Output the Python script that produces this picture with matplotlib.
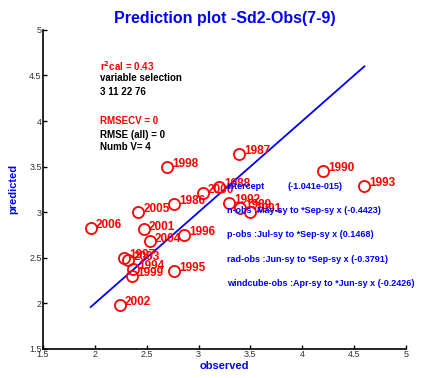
import matplotlib
matplotlib.use('Agg')
import matplotlib.pyplot as plt

plt.rcParams['font.family'] = ['Liberation Sans', 'DejaVu Sans']

# ---------- data ----------
years = [1986, 1987, 1988, 1989, 1990, 1991, 1992, 1993, 1994, 1995, 1996,
         1997, 1998, 1999, 2000, 2001, 2002, 2003, 2004, 2005, 2006]
observed = [2.76, 3.39, 3.20, 3.40, 4.20, 3.50, 3.29, 4.60, 2.37, 2.76, 2.86,
            2.28, 2.70, 2.36, 3.04, 2.47, 2.24, 2.32, 2.53, 2.42, 1.96]
predicted = [3.09, 3.64, 3.28, 3.05, 3.45, 3.00, 3.10, 3.29, 2.38, 2.36, 2.75,
             2.50, 3.50, 2.30, 3.21, 2.81, 1.98, 2.48, 2.68, 3.00, 2.83]

ticks = [1.5, 2, 2.5, 3, 3.5, 4, 4.5, 5]
tick_labels = ['1.5', '2', '2.5', '3', '3.5', '4', '4.5', '5']

stats_red1 = r'r$^{\mathbf{2}}$cal = 0.43'
stats_black1 = ['variable selection', '3 11 22 76']
stats_red2 = 'RMSECV = 0'
stats_black2 = ['RMSE (all) = 0', 'Numb V= 4']

intercept_name = 'Intercept'
intercept_val = '(-1.041e-015)'
model_lines = [
    'n-obs :May-sy to *Sep-sy x (-0.4423)',
    'p-obs :Jul-sy to *Sep-sy x (0.1468)',
    'rad-obs :Jun-sy to *Sep-sy x (-0.3791)',
    'windcube-obs :Apr-sy to *Jun-sy x (-0.2426)',
]

# ---------- figure ----------
fig = plt.figure(figsize=(4.35, 3.78), dpi=100)
ax = fig.add_axes([0.099, 0.077, 0.834, 0.844])

lo, hi = min(observed), max(observed)
ax.plot([lo, hi], [lo, hi], color='#0000ff', lw=1.3, zorder=1)
ax.plot(observed, predicted, 'o', mfc='none', mec='red', ms=8, mew=1.3, zorder=2)
for yr, xo, yp in zip(years, observed, predicted):
    ax.text(xo + 0.05, yp + 0.03, str(yr), color='red', fontsize=8.5,
            fontweight='bold', va='center', ha='left', zorder=3)

ax.text(2.05, 4.6, stats_red1, color='red', fontsize=7, fontweight='bold', va='center')
for i, s in enumerate(stats_black1):
    ax.text(2.05, 4.47 - i * 0.155, s, color='black', fontsize=7, fontweight='bold', va='center')
ax.text(2.05, 4.0, stats_red2, color='red', fontsize=7, fontweight='bold', va='center')
for i, s in enumerate(stats_black2):
    ax.text(2.05, 3.85 - i * 0.135, s, color='black', fontsize=7, fontweight='bold', va='center')

ax.text(3.27, 3.28, intercept_name, color='#0000ff', fontsize=6.5,
        fontweight='bold', va='center', zorder=4)
ax.text(3.86, 3.28, intercept_val, color='#0000ff', fontsize=6.5,
        fontweight='bold', va='center', zorder=4)
for i, s in enumerate(model_lines):
    ax.text(3.27, 3.015 - i * 0.265, s, color='#0000ff', fontsize=6.5,
            fontweight='bold', va='center', zorder=4)

ax.set_xlim(1.5, 5)
ax.set_ylim(1.5, 5)
ax.set_xticks(ticks)
ax.set_xticklabels(tick_labels)
ax.set_yticks(ticks)
ax.set_yticklabels(tick_labels)
ax.tick_params(direction='in', length=3, width=1, labelsize=6.5, pad=1,
               colors='black', labelcolor='#333333')
for side in ['top', 'right']:
    ax.spines[side].set_visible(False)
for side in ['left', 'bottom']:
    ax.spines[side].set_linewidth(1.2)

ax.set_xlabel('observed', color='#0000ff', fontsize=8, fontweight='bold', labelpad=1)
ax.set_ylabel('predicted', color='#0000ff', fontsize=8, fontweight='bold', labelpad=8)
ax.set_title('Prediction plot -Sd2-Obs(7-9)', color='#0000ff', fontsize=11.5,
             fontweight='bold', pad=5)

fig.savefig('out.png', dpi=100)
